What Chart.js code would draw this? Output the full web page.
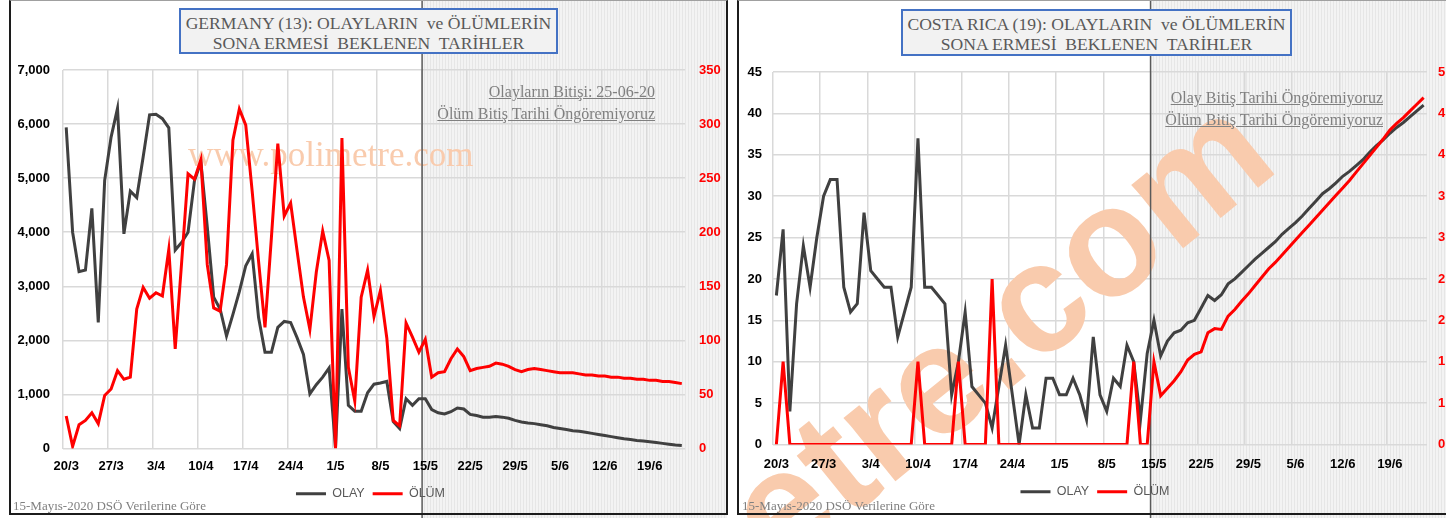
<!DOCTYPE html>
<html lang="tr">
<head>
<meta charset="utf-8">
<title>Olayların ve Ölümlerin Sona Ermesi Beklenen Tarihler</title>
<script src="https://cdn.jsdelivr.net/npm/chart.js@4.4.1/dist/chart.umd.min.js"></script>
<style>
  html, body { margin: 0; padding: 0; }
  body { width: 1446px; height: 518px; position: relative; overflow: hidden; background: #fff; }
  canvas { position: absolute; top: 0; }
  #deChart { left: 0; }
  #crChart { left: 730px; }
  .frame { position: absolute; top: 0; height: 515px; box-sizing: border-box;
           border: 2px solid #1c1c1c; border-top: 1px solid #a0a0a0; pointer-events: none; }
  .title { position: absolute; box-sizing: border-box; background: #f2f2f2; border: 2px solid #4472c4;
           font-family: "Liberation Serif", serif; font-size: 17.6px; line-height: 20px; color: #595959;
           text-align: center; white-space: pre; padding-top: 3px; }
  .note { position: absolute; font-family: "Liberation Serif", serif; font-size: 16px; line-height: 22px;
          color: #808080; text-align: right; white-space: nowrap; }
  .note span { text-decoration: underline; }
  .foot { position: absolute; top: 498px; font-family: "Liberation Serif", serif; font-size: 13px;
          line-height: 15px; color: #808080; white-space: nowrap; }
</style>
</head>
<body>
<canvas id="deChart" width="727" height="518"></canvas>
<canvas id="crChart" width="716" height="518"></canvas>

<div class="frame" style="left:9px;width:719px"></div>
<div class="frame" style="left:737px;width:730px"></div>

<div class="title" style="left:179px;top:8px;width:379px;height:46px">GERMANY (13): OLAYLARIN  ve ÖLÜMLERİN
SONA ERMESİ  BEKLENEN  TARİHLER</div>
<div class="title" style="left:901px;top:9px;width:391px;height:47px">COSTA RICA (19): OLAYLARIN  ve ÖLÜMLERİN
SONA ERMESİ  BEKLENEN  TARİHLER</div>

<div class="note" style="right:791px;top:81px"><span>Olayların Bitişi: 25-06-20</span><br><span>Ölüm Bitiş Tarihi Öngöremiyoruz</span></div>
<div class="note" style="right:63px;top:87px"><span>Olay Bitiş Tarihi Öngöremiyoruz</span><br><span>Ölüm Bitiş Tarihi Öngöremiyoruz</span></div>

<div class="foot" style="left:13px">15-Mayıs-2020 DSÖ Verilerine Göre</div>
<div class="foot" style="left:742px">15-Mayıs-2020 DSÖ Verilerine Göre</div>

<script>
// daily categories, 20 March - 24 June
const dates = [
  '20/3','21/3','22/3','23/3','24/3','25/3','26/3','27/3','28/3','29/3','30/3','31/3',
  '1/4','2/4','3/4','4/4','5/4','6/4','7/4','8/4','9/4','10/4','11/4','12/4','13/4','14/4','15/4',
  '16/4','17/4','18/4','19/4','20/4','21/4','22/4','23/4','24/4','25/4','26/4','27/4','28/4','29/4','30/4',
  '1/5','2/5','3/5','4/5','5/5','6/5','7/5','8/5','9/5','10/5','11/5','12/5','13/5','14/5','15/5',
  '16/5','17/5','18/5','19/5','20/5','21/5','22/5','23/5','24/5','25/5','26/5','27/5','28/5','29/5','30/5','31/5',
  '1/6','2/6','3/6','4/6','5/6','6/6','7/6','8/6','9/6','10/6','11/6','12/6','13/6','14/6','15/6',
  '16/6','17/6','18/6','19/6','20/6','21/6','22/6','23/6','24/6'
];
// labelled dates on the x axis (weekly)
const weekTicks = ['20/3','27/3','3/4','10/4','17/4','24/4','1/5','8/5','15/5','22/5','29/5','5/6','12/6','19/6'];
// projection starts here
const forecastStart = '15/5';

// Germany
const deOlay = [
  5940, 4000, 3270, 3300, 4440, 2330, 4960, 5760, 6290, 3970, 4760, 4640, 5390, 6170, 6180, 6100,
  5930, 3670, 3810, 4000, 4950, 5300, 4100, 2800, 2580, 2080, 2480, 2900, 3380, 3600, 2420, 1780,
  1780, 2240, 2350, 2330, 2050, 1740, 1010, 1180, 1320, 1490, 10, 2580, 800, 690, 690, 1030,
  1190, 1210, 1240, 500, 370, 920, 800, 920, 920, 720, 660, 640, 680, 750, 730, 630,
  610, 580, 580, 590, 580, 560, 520, 490, 470, 460, 440, 420, 390, 370, 350, 330,
  320, 300, 280, 260, 240, 220, 200, 180, 165, 150, 140, 125, 110, 95, 80, 65, 55
];
const deOlum = [
  30, 2, 22, 26, 33, 23, 49, 55, 72, 64, 66, 129, 149, 139, 144, 141,
  184, 92, 172, 254, 249, 267, 170, 130, 127, 170, 285, 314, 299, 238, 173, 112,
  195, 282, 215, 227, 183, 140, 110, 163, 201, 174, 0, 287, 75, 44, 140, 165,
  122, 146, 102, 26, 21, 116, 103, 89, 101, 66, 70, 71, 83, 92, 85, 72,
  74, 75, 76, 79, 78, 76, 73, 71, 73, 74, 73, 72, 71, 70, 70, 70,
  69, 68, 68, 67, 67, 66, 66, 65, 65, 64, 64, 63, 63, 62, 62, 61, 60
];

// Costa Rica
const crOlay = [
  18, 26, 4, 17, 24, 19, 25, 30, 32, 32, 19, 16, 17, 28, 21, 20,
  19, 19, 13, 16, 19, 37, 19, 19, 18, 17, 6, 10, 16, 7, 6, 5,
  2, 7, 12, 6, 0, 6, 2, 2, 8, 8, 6, 6, 8, 6, 3, 13,
  6, 4, 8, 7, 12, 10, 3, 11, 15, 10.7, 12.5, 13.5, 13.8, 14.7, 15, 16.5,
  18, 17.4, 18.1, 19.4, 20, 20.8, 21.6, 22.4, 23.1, 23.8, 24.5, 25.4, 26.1, 26.8, 27.6, 28.5,
  29.4, 30.3, 30.9, 31.6, 32.4, 33.0, 33.7, 34.4, 35.3, 36.1, 36.8, 37.6, 38.3, 38.9, 39.6, 40.3, 41.0
];
const crOlum = [
  0, 1, 0, 0, 0, 0, 0, 0, 0, 0, 0, 0, 0, 0, 0, 0,
  0, 0, 0, 0, 0, 1, 0, 0, 0, 0, 0, 1, 0, 0, 0, 0,
  2, 0, 0, 0, 0, 0, 0, 0, 0, 0, 0, 0, 0, 0, 0, 0,
  0, 0, 0, 0, 0, 1, 0, 0, 1, 0.59, 0.68, 0.77, 0.88, 1.02, 1.09, 1.12,
  1.35, 1.40, 1.39, 1.55, 1.63, 1.73, 1.82, 1.92, 2.02, 2.12, 2.20, 2.29, 2.38, 2.47, 2.56, 2.65,
  2.74, 2.83, 2.92, 3.01, 3.10, 3.19, 3.29, 3.39, 3.49, 3.59, 3.69, 3.80, 3.88, 3.95, 4.03, 4.11, 4.19
];

// axis ranges
const deCaseMax = 7000, deCaseStep = 1000, deDeathMax = 350, deDeathStep = 50;
const crCaseMax = 45, crCaseStep = 5, crDeathMax = 4.5, crDeathStep = 0.5;

Chart.defaults.font.family = '"Liberation Sans", Arial, sans-serif';

// shaded projection zone, 15/5 divider and watermark
const panelDecor = {
  id: 'panelDecor',
  beforeDraw(chart) {
    const ctx = chart.ctx;
    const xl = startPixel(chart);
    ctx.save();
    ctx.fillStyle = '#f3f3f3';
    ctx.fillRect(xl, 0, chart.width - xl, chart.height);
    ctx.fillStyle = '#e6e6e6';
    for (let px = Math.round(xl) + 2; px < chart.width; px += 3) {
      ctx.fillRect(px, 0, 1, chart.height);
    }
    ctx.restore();
  },
  beforeDatasetsDraw(chart, args, opts) {
    const ctx = chart.ctx;
    const m = opts.mark;
    ctx.save();
    ctx.font = m.font;
    ctx.fillStyle = '#f9cbad';
    ctx.textAlign = m.align;
    ctx.translate(m.x, m.y);
    ctx.rotate(m.angle * Math.PI / 180);
    ctx.fillText(m.text, 0, 0);
    ctx.restore();

    const xl = startPixel(chart);
    ctx.save();
    ctx.strokeStyle = '#5a5a5a';
    ctx.lineWidth = 1.5;
    ctx.beginPath();
    ctx.moveTo(xl, 0);
    ctx.lineTo(xl, chart.height);
    ctx.stroke();
    ctx.restore();
  }
};

function startPixel(chart) {
  const x = chart.scales.x;
  const slot = (x.right - x.left) / chart.data.labels.length;
  return x.getPixelForValue(chart.data.labels.indexOf(forecastStart)) - slot / 2;
}

function buildChart(id, cfg) {
  return new Chart(document.getElementById(id), {
    type: 'line',
    data: {
      labels: dates,
      datasets: [
        { label: 'OLAY', data: cfg.cases, yAxisID: 'y', borderColor: '#404040', backgroundColor: '#404040',
          borderWidth: 3, pointRadius: 0, tension: 0, order: 1 },
        { label: 'ÖLÜM', data: cfg.deaths, yAxisID: 'y1', borderColor: '#ff0000', backgroundColor: '#ff0000',
          borderWidth: 3, pointRadius: 0, tension: 0, order: 0 }
      ]
    },
    options: {
      responsive: false,
      devicePixelRatio: 1,
      animation: false,
      layout: { padding: { top: cfg.top, bottom: cfg.bottom, left: cfg.padL, right: 0 } },
      scales: {
        x: {
          offset: true,
          border: { display: false },
          grid: {
            offset: true, drawTicks: false, lineWidth: 1.5,
            color: (c) => weekTicks.includes(dates[c.index]) ? '#d9d9d9' : 'rgba(0,0,0,0)'
          },
          ticks: {
            autoSkip: false, maxRotation: 0, padding: cfg.xPad, color: '#000', z: 1,
            font: { size: 13, weight: 'bold' },
            callback: function (v) {
              const l = this.getLabelForValue(v);
              return weekTicks.includes(l) ? l : '';
            }
          },
          afterFit: (s) => { s.height = cfg.xHeight; }
        },
        y: {
          position: 'left', min: 0, max: cfg.caseMax,
          border: { display: false },
          grid: { color: '#d9d9d9', lineWidth: 1.5, drawTicks: false },
          ticks: {
            stepSize: cfg.caseStep, padding: cfg.yPad, color: '#000', z: 1,
            font: { size: 13, weight: 'bold' },
            callback: (v) => v.toLocaleString('en-US')
          },
          afterFit: (s) => { s.width = cfg.leftW; }
        },
        y1: {
          position: 'right', min: 0, max: cfg.deathMax,
          border: { display: false },
          grid: { display: false, drawTicks: false },
          ticks: {
            stepSize: cfg.deathStep, padding: cfg.y1Pad, color: '#ff0000', z: 1,
            font: { size: 13, weight: 'bold' },
            callback: (v) => String(Math.round(v))
          },
          afterFit: (s) => { s.width = cfg.rightW; }
        }
      },
      plugins: {
        tooltip: { enabled: false },
        legend: {
          position: 'bottom',
          labels: {
            usePointStyle: true, pointStyle: 'line', pointStyleWidth: 30,
            color: '#595959', font: { size: 12.5 }, padding: 8,
            sort: (a, b) => a.datasetIndex - b.datasetIndex
          }
        },
        panelDecor: { mark: cfg.mark }
      }
    },
    plugins: [panelDecor]
  });
}

buildChart('deChart', {
  cases: deOlay, deaths: deOlum,
  caseMax: deCaseMax, caseStep: deCaseStep, deathMax: deDeathMax, deathStep: deDeathStep,
  top: 70, bottom: 8, padL: 14, xHeight: 31, xPad: 10, leftW: 49, rightW: 42, yPad: 13, y1Pad: 14,
  mark: { text: 'www.polimetre.com', font: '35px "Liberation Serif"', x: 188, y: 157, angle: 0, align: 'left' }
});

buildChart('crChart', {
  cases: crOlay, deaths: crOlum,
  caseMax: crCaseMax, caseStep: crCaseStep, deathMax: crDeathMax, deathStep: crDeathStep,
  top: 72, bottom: 10, padL: 14, xHeight: 33, xPad: 12, leftW: 29, rightW: 19, yPad: 11, y1Pad: 11,
  mark: { text: 'polimetre.com', font: 'bold 155px "Liberation Sans"', x: 525, y: 135, angle: -39, align: 'right' }
});
</script>
</body>
</html>
